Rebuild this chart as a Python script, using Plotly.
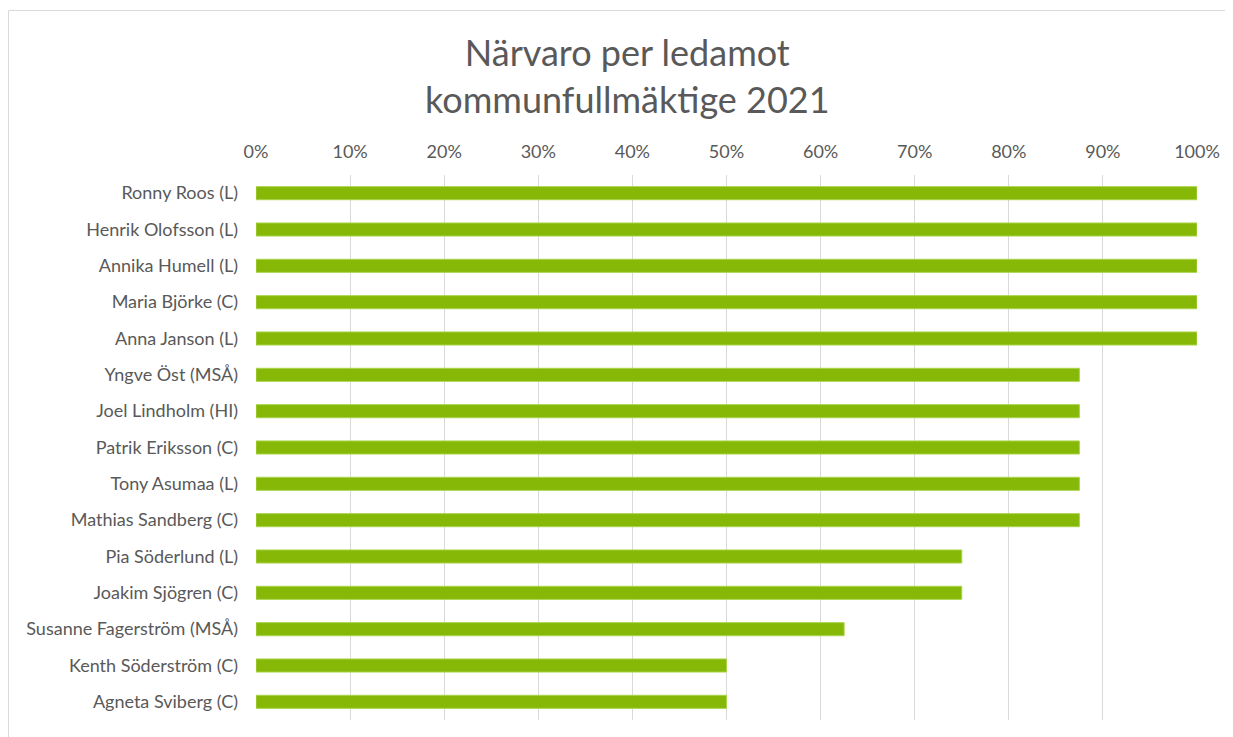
import plotly.graph_objects as go

names = [
    "Ronny Roos (L)", "Henrik Olofsson (L)", "Annika Humell (L)", "Maria Björke (C)",
    "Anna Janson (L)", "Yngve Öst (MSÅ)", "Joel Lindholm (HI)", "Patrik Eriksson (C)",
    "Tony Asumaa (L)", "Mathias Sandberg (C)", "Pia Söderlund (L)", "Joakim Sjögren (C)",
    "Susanne Fagerström (MSÅ)", "Kenth Söderström (C)", "Agneta Sviberg (C)",
]
attendance = [1.0, 1.0, 1.0, 1.0, 1.0, 0.875, 0.875, 0.875, 0.875, 0.875,
              0.75, 0.75, 0.625, 0.5, 0.5]
tick_vals = [i / 10 for i in range(11)]
tick_text = [f"{i*10}%" for i in range(11)]

FONT = "Lato, 'Open Sans', sans-serif"
GREY = "#595959"

# page body has an 8px margin; work in screen pixels and shift
OFF = 8
W, H = 1233 - OFF, 737 - OFF
L, T = 256 - OFF, 175 - OFF
R = W - (1197 - OFF)
B = H - (720 - OFF)
pw, ph = W - L - R, H - T - B

def px_x(p):
    return (p - OFF - L) / pw

def px_y(p):
    return 1 + (T - (p - OFF)) / ph

fig = go.Figure(go.Bar(
    x=attendance, y=names, orientation="h",
    marker=dict(color="#86b808", line=dict(color="#a9d44a", width=1)),
    width=0.36,
))

fig.update_layout(
    width=W, height=H,
    margin=dict(l=L, r=R, t=T, b=B),
    paper_bgcolor="white", plot_bgcolor="white",
    showlegend=False,
    font=dict(family=FONT, color=GREY, size=18),
    xaxis=dict(
        side="top", range=[0, 1], tickvals=tick_vals, ticktext=tick_text,
        showgrid=True, gridcolor="#d9d9d9", gridwidth=1, zeroline=False,
        showline=False, ticks="", tickfont=dict(size=18, color=GREY),
        ticklabelstandoff=12,
    ),
    yaxis=dict(
        autorange="reversed", showgrid=False, zeroline=False, showline=False,
        ticks="", tickfont=dict(size=18, color=GREY), ticklabelstandoff=17,
    ),
    annotations=[dict(
        text="Närvaro per ledamot<br>kommunfullmäktige 2021",
        xref="paper", yref="paper", x=px_x(627), y=px_y(76),
        xanchor="center", yanchor="middle", showarrow=False,
        font=dict(size=36, color=GREY, family=FONT),
    )],
    shapes=[dict(
        type="rect", xref="paper", yref="paper",
        x0=px_x(8.5), x1=px_x(1231.5), y0=px_y(740), y1=px_y(10.5),
        line=dict(color="#d9d9d9", width=1), layer="below",
    )],
)

fig.write_html("out.html")
